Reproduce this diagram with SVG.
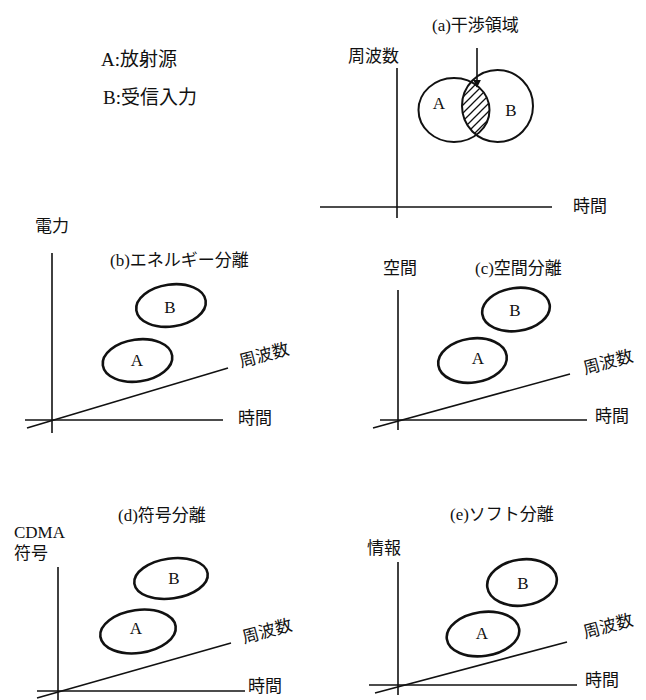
<svg xmlns="http://www.w3.org/2000/svg" width="646" height="700" viewBox="0 0 646 700">
<style>
text{font-family:"Liberation Serif","Noto Sans CJK JP",serif;fill:#111}
.lbl{font-size:17px}
.big{font-size:19px}
.ax{stroke:#111;stroke-width:1.6;fill:none}
.el{stroke:#111;stroke-width:2.6;fill:none}
.ci{stroke:#111;stroke-width:2;fill:none}
.ab{font-size:17px;text-anchor:middle}
</style>
<defs>
<pattern id="hatch" patternUnits="userSpaceOnUse" width="8" height="8">
<path d="M-2,2 L2,-2 M0,8 L8,0 M6,10 L10,6" stroke="#111" stroke-width="1.3"/>
</pattern>
<clipPath id="clipA"><ellipse cx="454" cy="110" rx="35.5" ry="32"/></clipPath>
<marker id="ah" viewBox="0 0 10 10" refX="9" refY="5" markerWidth="5" markerHeight="5" orient="auto">
<path d="M0,0 L10,5 L0,10 z" fill="#111"/>
</marker>
</defs>
<rect width="646" height="700" fill="#fff"/>

<g id="legend">
<text class="big" x="101" y="66">A:放射源</text>
<text class="big" x="103" y="104">B:受信入力</text>
</g>

<g id="panel-a">
<text class="lbl" x="432" y="31">(a)干渉領域</text>
<text class="lbl" x="348" y="62">周波数</text>
<text class="lbl" x="573" y="212">時間</text>
<line class="ax" x1="397" y1="68" x2="397" y2="218"/>
<line class="ax" x1="320" y1="207" x2="552" y2="207"/>
<ellipse cx="497.5" cy="106" rx="35.5" ry="36" fill="url(#hatch)" clip-path="url(#clipA)"/>
<ellipse class="ci" cx="454" cy="110" rx="35.5" ry="32"/>
<ellipse class="ci" cx="497.5" cy="106" rx="35.5" ry="36"/>
<text class="ab" x="439" y="109">A</text>
<text class="ab" x="511" y="116">B</text>
</g>

<g id="connectors">
<line x1="477" y1="48" x2="477" y2="87" stroke="#111" stroke-width="1.6" marker-end="url(#ah)"/>
</g>

<g id="panel-b">
<text class="lbl" x="35" y="232">電力</text>
<text class="lbl" x="110" y="266">(b)エネルギー分離</text>
<line class="ax" x1="52" y1="253" x2="52" y2="433"/>
<line class="ax" x1="25" y1="420" x2="223" y2="420"/>
<line class="ax" x1="27" y1="428" x2="228" y2="368"/>
<text class="lbl" x="264" y="361" text-anchor="middle" transform="rotate(-15 264 355)">周波数</text>
<text class="lbl" x="238" y="424">時間</text>
<ellipse class="el" cx="171" cy="305.5" rx="35" ry="21" transform="rotate(-8 171 305.5)"/>
<ellipse class="el" cx="137.5" cy="360.5" rx="35" ry="21" transform="rotate(-8 137.5 360.5)"/>
<text class="ab" x="170" y="313">B</text>
<text class="ab" x="137" y="366">A</text>
</g>

<g id="panel-c">
<text class="lbl" x="383" y="274">空間</text>
<text class="lbl" x="475" y="274">(c)空間分離</text>
<line class="ax" x1="398" y1="290" x2="398" y2="430"/>
<line class="ax" x1="380" y1="420" x2="587" y2="420"/>
<line class="ax" x1="373" y1="428" x2="570" y2="374"/>
<text class="lbl" x="608" y="368" text-anchor="middle" transform="rotate(-15 608 362)">周波数</text>
<text class="lbl" x="595" y="422">時間</text>
<ellipse class="el" cx="516" cy="309.5" rx="34" ry="21.5" transform="rotate(-8 516 309.5)"/>
<ellipse class="el" cx="472.5" cy="360.5" rx="34.5" ry="22" transform="rotate(-8 472.5 360.5)"/>
<text class="ab" x="515" y="316">B</text>
<text class="ab" x="478" y="364">A</text>
</g>

<g id="panel-d">
<text class="lbl" x="118" y="521">(d)符号分離</text>
<text class="lbl" x="14" y="538">CDMA</text>
<text class="lbl" x="14" y="559">符号</text>
<line class="ax" x1="58" y1="567" x2="58" y2="700"/>
<line class="ax" x1="37" y1="691" x2="245" y2="691"/>
<line class="ax" x1="37" y1="698" x2="231" y2="643"/>
<text class="lbl" x="267" y="637" text-anchor="middle" transform="rotate(-15 267 631)">周波数</text>
<text class="lbl" x="248" y="692">時間</text>
<ellipse class="el" cx="171" cy="578.5" rx="37" ry="20" transform="rotate(-8 171 578.5)"/>
<ellipse class="el" cx="138" cy="631.5" rx="38" ry="21.5" transform="rotate(-8 138 631.5)"/>
<text class="ab" x="174" y="584">B</text>
<text class="ab" x="136" y="634">A</text>
</g>

<g id="panel-e">
<text class="lbl" x="450" y="520">(e)ソフト分離</text>
<text class="lbl" x="367" y="554">情報</text>
<line class="ax" x1="398" y1="562" x2="398" y2="695"/>
<line class="ax" x1="369" y1="685" x2="577" y2="685"/>
<line class="ax" x1="375" y1="693" x2="567" y2="642"/>
<text class="lbl" x="608" y="632" text-anchor="middle" transform="rotate(-15 608 626)">周波数</text>
<text class="lbl" x="585" y="686">時間</text>
<ellipse class="el" cx="522" cy="582.5" rx="35" ry="23" transform="rotate(-8 522 582.5)"/>
<ellipse class="el" cx="483" cy="634" rx="36.5" ry="22" transform="rotate(-8 483 634)"/>
<text class="ab" x="523" y="589">B</text>
<text class="ab" x="482" y="639">A</text>
</g>
</svg>
